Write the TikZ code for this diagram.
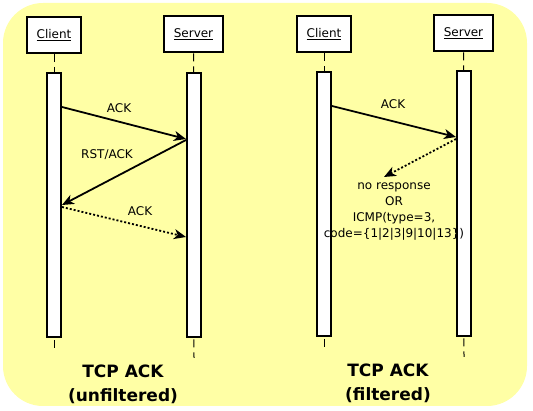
\documentclass[tikz,border=0pt]{standalone}
\usepackage{fontspec}
\setmainfont{DejaVu Sans}
\usetikzlibrary{arrows.meta}
\definecolor{notebg}{RGB}{255,255,165}

\tikzset{
    actor/.style={draw, line width=2pt, fill=white, minimum width=54pt,
        minimum height=36pt, inner sep=0pt, font=\fontsize{12}{14}\selectfont},
    bar/.style={draw, line width=2pt, fill=white, minimum width=14pt,
        minimum height=264pt, inner sep=0pt},
    life/.style={line width=1pt, dash pattern=on 8pt off 5pt},
    msg/.style={line width=1.8pt, -{Stealth[length=12pt,width=10pt,inset=3.5pt]}},
    noreply/.style={msg, dash pattern=on 2pt off 2pt},
    lbl/.style={font=\fontsize{12}{14}\selectfont},
    caption/.style={font=\fontsize{17}{24}\selectfont\bfseries, align=center},
}

\begin{document}
\begin{tikzpicture}[x=1pt, y=-1pt]
    \useasboundingbox (0,0) rectangle (533,411);
    \fill[notebg, rounded corners=40pt] (3,3) rectangle (527,406);

    % unfiltered
    \node[actor] (clientU) at (54,35) {\underline{Client}};
    \node[actor, minimum width=59pt] (serverU) at (193.5,34.5) {\underline{Server}};
    \draw[life] (clientU.south) -- (54,350);
    \draw[life] (serverU.south) -- (194,358);
    \node[bar] (cbarU) at (54,205) {};
    \node[bar] (sbarU) at (194,205) {};

    \coordinate (u1) at (cbarU.east |- 0,107);
    \coordinate (u2) at (sbarU.west |- 0,139);
    \coordinate (u3) at (sbarU.west |- 0,140);
    \coordinate (u4) at (cbarU.east |- 0,205);
    \coordinate (u5) at (cbarU.east |- 0,207);
    \coordinate (u6) at (sbarU.west |- 0,237);
    \draw[msg] (u1) -- (u2);
    \draw[msg] (u3) -- (u4);
    \draw[noreply] (u5) -- (u6);
    \node[lbl] (ackU) at (119,108) {ACK};
    \node[lbl] (rstU) at (107,155) {RST/ACK};
    \node[lbl] (ack2U) at (140,211) {ACK};

    \node[caption] (titleU) at (123,384) {TCP ACK\\(unfiltered)};

    % filtered
    \node[actor] (clientF) at (324,34.5) {\underline{Client}};
    \node[actor, minimum width=59pt] (serverF) at (463.5,33.5) {\underline{Server}};
    \draw[life] (clientF.south) -- (324,349);
    \draw[life] (serverF.south) -- (464,357);
    \node[bar, minimum height=264pt] (cbarF) at (324,204) {};
    \node[bar, minimum height=265pt] (sbarF) at (464,203.5) {};

    \coordinate (f1) at (cbarF.east |- 0,106);
    \coordinate (f2) at (sbarF.west |- 0,137);
    \coordinate (f3) at (sbarF.west |- 0,139);
    \coordinate (f4) at (384,177);
    \draw[msg] (f1) -- (f2);
    \draw[noreply] (f3) -- (f4);
    \node[lbl] (ackF) at (393,104) {ACK};
    \node[lbl, align=center, font=\fontsize{12}{16}\selectfont] (icmpF) at (394,212)
        {no response\\OR\\ICMP(type=3,\\code=\{1|2|3|9|10|13\})};

    \node[caption] (titleF) at (388,383) {TCP ACK\\(filtered)};
\end{tikzpicture}
\end{document}
